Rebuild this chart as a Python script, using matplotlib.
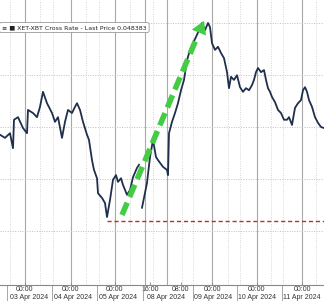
import matplotlib
matplotlib.use("Agg")
import matplotlib.pyplot as plt
import matplotlib.transforms as mtransforms
import numpy as np

# ---- data (session time index, price) ----
t1 = [0, 5, 10, 13, 14, 18, 23, 27, 28, 33, 37, 40, 43, 47, 52, 55, 58, 62, 65, 68,
      72, 75, 77, 80, 83, 87, 89, 92, 94, 97, 98, 102, 105, 107, 110, 113, 116, 118,
      121, 123, 127, 130, 133, 137, 139]
p1 = [0.04785, 0.04779, 0.04788, 0.04759, 0.04814, 0.04819, 0.04798, 0.04788, 0.04833,
      0.04827, 0.04819, 0.04839, 0.04868, 0.04846, 0.04827, 0.04810, 0.04819, 0.04779,
      0.04810, 0.04833, 0.04827, 0.04839, 0.04846, 0.04833, 0.04810, 0.04785, 0.04775,
      0.04736, 0.04717, 0.04701, 0.04672, 0.04663, 0.04653, 0.04626, 0.04659, 0.04698,
      0.04707, 0.04694, 0.04701, 0.04688, 0.04669, 0.04678, 0.04703, 0.04721, 0.04727]

t2 = [142, 147, 150, 153, 156, 158, 163, 167, 168, 169, 172, 175, 178, 181, 184, 187,
      190, 193, 196, 199, 202, 205, 208, 210, 212, 215, 218, 221, 224, 227, 229, 231,
      234, 237, 240, 243, 246, 249, 252, 254, 256, 258, 261, 264, 266, 268, 270, 272,
      275, 278, 281, 284, 287, 289, 292, 295, 298, 301, 303, 305, 307, 309, 312, 315,
      318, 321, 324]
p2 = [0.04644, 0.04692, 0.04742, 0.04775, 0.04742, 0.04736, 0.04723, 0.04717, 0.04707,
      0.04788, 0.04810, 0.04827, 0.04846, 0.04871, 0.04891, 0.04929, 0.04949, 0.04962,
      0.04974, 0.04987, 0.05001, 0.04987, 0.05001, 0.04993, 0.04962, 0.04949, 0.04955,
      0.04943, 0.04933, 0.04906, 0.04875, 0.04897, 0.04891, 0.04900, 0.04877, 0.04868,
      0.04875, 0.04871, 0.04881, 0.04891, 0.04906, 0.04914, 0.04906, 0.04910, 0.04891,
      0.04875, 0.04868, 0.04858, 0.04848, 0.04833, 0.04827, 0.04814, 0.04814, 0.04819,
      0.04804, 0.04837, 0.04846, 0.04852, 0.04871, 0.04877, 0.04868, 0.04852, 0.04839,
      0.04819, 0.04808, 0.04800, 0.04798]

time_tick_pos = [25, 71, 115, 150, 181, 212, 257, 302]
time_tick_labels = ["00:00", "00:00", "00:00", "16:00", "08:00", "00:00", "00:00", "00:00"]
date_pos = [29, 73, 118, 166, 213, 257, 302]
date_labels = ["03 Apr 2024", "04 Apr 2024", "05 Apr 2024", "08 Apr 2024",
               "09 Apr 2024", "10 Apr 2024", "11 Apr 2024"]
date_sep = [7, 52, 97, 143, 193, 237, 282]
major_grid = [25, 71, 115, 145, 167, 212, 257, 302]
minor_grid = [10, 40, 53, 86, 99, 130, 153, 182, 193, 228, 240, 271, 283, 316]
hgrid = [0.046, 0.047, 0.048, 0.049, 0.050]

support_level = 0.04619
support_start = 107
arrow_start = (122, 0.04630)
arrow_end = (205, 0.05010)
legend_text = "XET-XBT Cross Rate - Last Price 0.048383"

# ---- figure ----
plt.rcParams['font.family'] = ['Liberation Sans', 'DejaVu Sans']
fig = plt.figure(figsize=(3.24, 3.01), dpi=100)
ax = fig.add_axes([0, 16 / 301, 1, 285 / 301])
ax.set_xlim(0, 324)
ax.set_ylim(0.044947, 0.050454)

for x in major_grid:
    ax.axvline(x, color='#a8a8a8', lw=0.8, zorder=0)
for x in minor_grid:
    ax.axvline(x, color='#c8c8c8', lw=0.6, ls=(0, (1, 1.8)), zorder=0)
for y in hgrid:
    ax.axhline(y, color='#c0c0c0', lw=0.7, ls=(0, (1, 1.5)), zorder=0)

ax.plot(t1, p1, color='#1f2f4c', lw=1.3, zorder=3)
ax.plot(t2, p2, color='#1f2f4c', lw=1.3, zorder=3)

ax.plot([support_start, 324], [support_level, support_level], color='#b83030',
        lw=1.0, ls=(0, (3, 2)), zorder=4)

# green dashed arrow
frac = 0.9
mid = (arrow_start[0] + frac * (arrow_end[0] - arrow_start[0]),
       arrow_start[1] + frac * (arrow_end[1] - arrow_start[1]))
ax.plot([arrow_start[0], mid[0]], [arrow_start[1], mid[1]], color='#44cc44',
        lw=4, ls=(0, (2.4, 1.1)), solid_capstyle='butt', zorder=5)
ax.annotate("", xy=arrow_end, xytext=mid,
            arrowprops=dict(arrowstyle='-|>,head_length=0.9,head_width=0.55',
                            color='#44cc44', lw=0.1, mutation_scale=10),
            zorder=5)

# legend-like label
trans_l = mtransforms.blended_transform_factory(ax.transData, ax.transAxes)
ax.text(2, 1 - 27.5 / 285, "≡ ■ " + legend_text,
        transform=trans_l,
        fontsize=4.5, color='#222222', va='center', ha='left', zorder=6,
        family=['DejaVu Sans'],
        bbox=dict(boxstyle='round,pad=0.4,rounding_size=0.3', fc='white', ec='#999999', lw=0.6))

# axes styling
for s in ['top', 'right', 'left']:
    ax.spines[s].set_visible(False)
ax.spines['bottom'].set_color('#888888')
ax.spines['bottom'].set_linewidth(0.8)
ax.set_yticks([])
ax.set_xticks(time_tick_pos)
ax.set_xticklabels(time_tick_labels, fontsize=5, color='#333333')
ax.tick_params(axis='x', length=2, width=0.6, color='#888888', pad=0.8, direction='in')

trans = mtransforms.blended_transform_factory(ax.transData, ax.transAxes)
for x, lab in zip(date_pos, date_labels):
    ax.text(x, -12.5 / 285, lab, transform=trans, fontsize=5, color='#333333',
            ha='center', va='center', clip_on=False)
for x in date_sep:
    ax.plot([x, x], [0, -16 / 285], transform=trans, color='#999999', lw=0.6,
            clip_on=False)

fig.savefig("out.png", dpi=100)
